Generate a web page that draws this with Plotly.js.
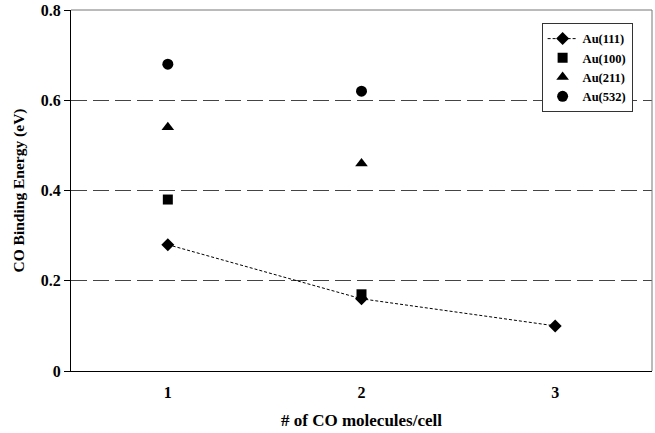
<!DOCTYPE html>
<html><head><meta charset="utf-8">
<script src="https://cdn.plot.ly/plotly-3.0.1.min.js"></script>
<style>html,body{margin:0;padding:0;background:#fff}#chart{width:655px;height:433px}</style>
</head><body><div id="chart"></div>
<script>
const xAu111 = [1, 2, 3];
const yAu111 = [0.28, 0.16, 0.10];
const xAu100 = [1, 2];
const yAu100 = [0.38, 0.17];
const xAu211 = [1, 2];
const yAu211 = [0.54, 0.46];
const xAu532 = [1, 2];
const yAu532 = [0.68, 0.62];
const xTicks = [1, 2, 3];
const yTicks = [0, 0.2, 0.4, 0.6, 0.8];
const yTickText = ['0', '0.2', '0.4', '0.6', '0.8'];
const seriesNames = ['Au(111)', 'Au(100)', 'Au(211)', 'Au(532)'];

const fontFam = 'Liberation Serif';
const b = s => '<b>' + s + '</b>';
const traces = [
  {x: xAu111, y: yAu111, name: b(seriesNames[0]), type: 'scatter', mode: 'lines+markers',
   line: {color: '#000', width: 1, dash: '3px,2px'},
   marker: {symbol: 'diamond', size: 10, color: '#000'}},
  {x: xAu100, y: yAu100, name: b(seriesNames[1]), type: 'scatter', mode: 'markers',
   marker: {symbol: 'square', size: 10, color: '#000'}},
  {x: xAu211, y: yAu211, name: b(seriesNames[2]), type: 'scatter', mode: 'markers',
   marker: {symbol: 'triangle-up', size: 11, color: '#000'}},
  {x: xAu532, y: yAu532, name: b(seriesNames[3]), type: 'scatter', mode: 'markers',
   marker: {symbol: 'circle', size: 11, color: '#000'}}
];

const layout = {
  width: 655, height: 433,
  margin: {l: 71, r: 3, t: 10, b: 62},
  paper_bgcolor: '#fff', plot_bgcolor: '#fff',
  font: {family: fontFam, color: '#000', size: 13},
  showlegend: true,
  legend: {x: 0.81, y: 0.964, xanchor: 'left', yanchor: 'top',
    bordercolor: '#333', borderwidth: 1, bgcolor: '#fff',
    font: {family: fontFam, size: 12.5, color: '#000'},
    tracegroupgap: 0, itemwidth: 30},
  xaxis: {range: [0.5, 3.5], tickvals: xTicks, ticktext: xTicks.map(v => b(String(v))),
    showgrid: false, zeroline: false, showline: true, linecolor: '#000', linewidth: 1,
    ticks: '', ticklabelstandoff: 7,
    tickfont: {family: fontFam, size: 16, color: '#000'},
    title: {text: b('# of CO molecules/cell'), standoff: 13,
      font: {family: fontFam, size: 17, color: '#000'}}},
  yaxis: {range: [0, 0.8], tickvals: yTicks, ticktext: yTickText.map(b),
    showgrid: true, gridcolor: '#444', gridwidth: 1.2, griddash: '16px,6px',
    zeroline: false, showline: true, linecolor: '#000', linewidth: 1,
    ticks: 'outside', ticklen: 6, tickcolor: '#000',
    tickfont: {family: fontFam, size: 16, color: '#000'},
    title: {text: b('CO Binding Energy (eV)'), standoff: 12,
      font: {family: fontFam, size: 15.5, color: '#000'}}},
  shapes: [
    {type: 'line', xref: 'paper', yref: 'paper', x0: 0, x1: 1, y0: 1, y1: 1,
     line: {color: '#777', width: 1}},
    {type: 'line', xref: 'paper', yref: 'paper', x0: 1, x1: 1, y0: 0, y1: 1,
     line: {color: '#777', width: 1}}
  ]
};
Plotly.newPlot('chart', traces, layout, {displayModeBar: false, staticPlot: true});
</script></body></html>
